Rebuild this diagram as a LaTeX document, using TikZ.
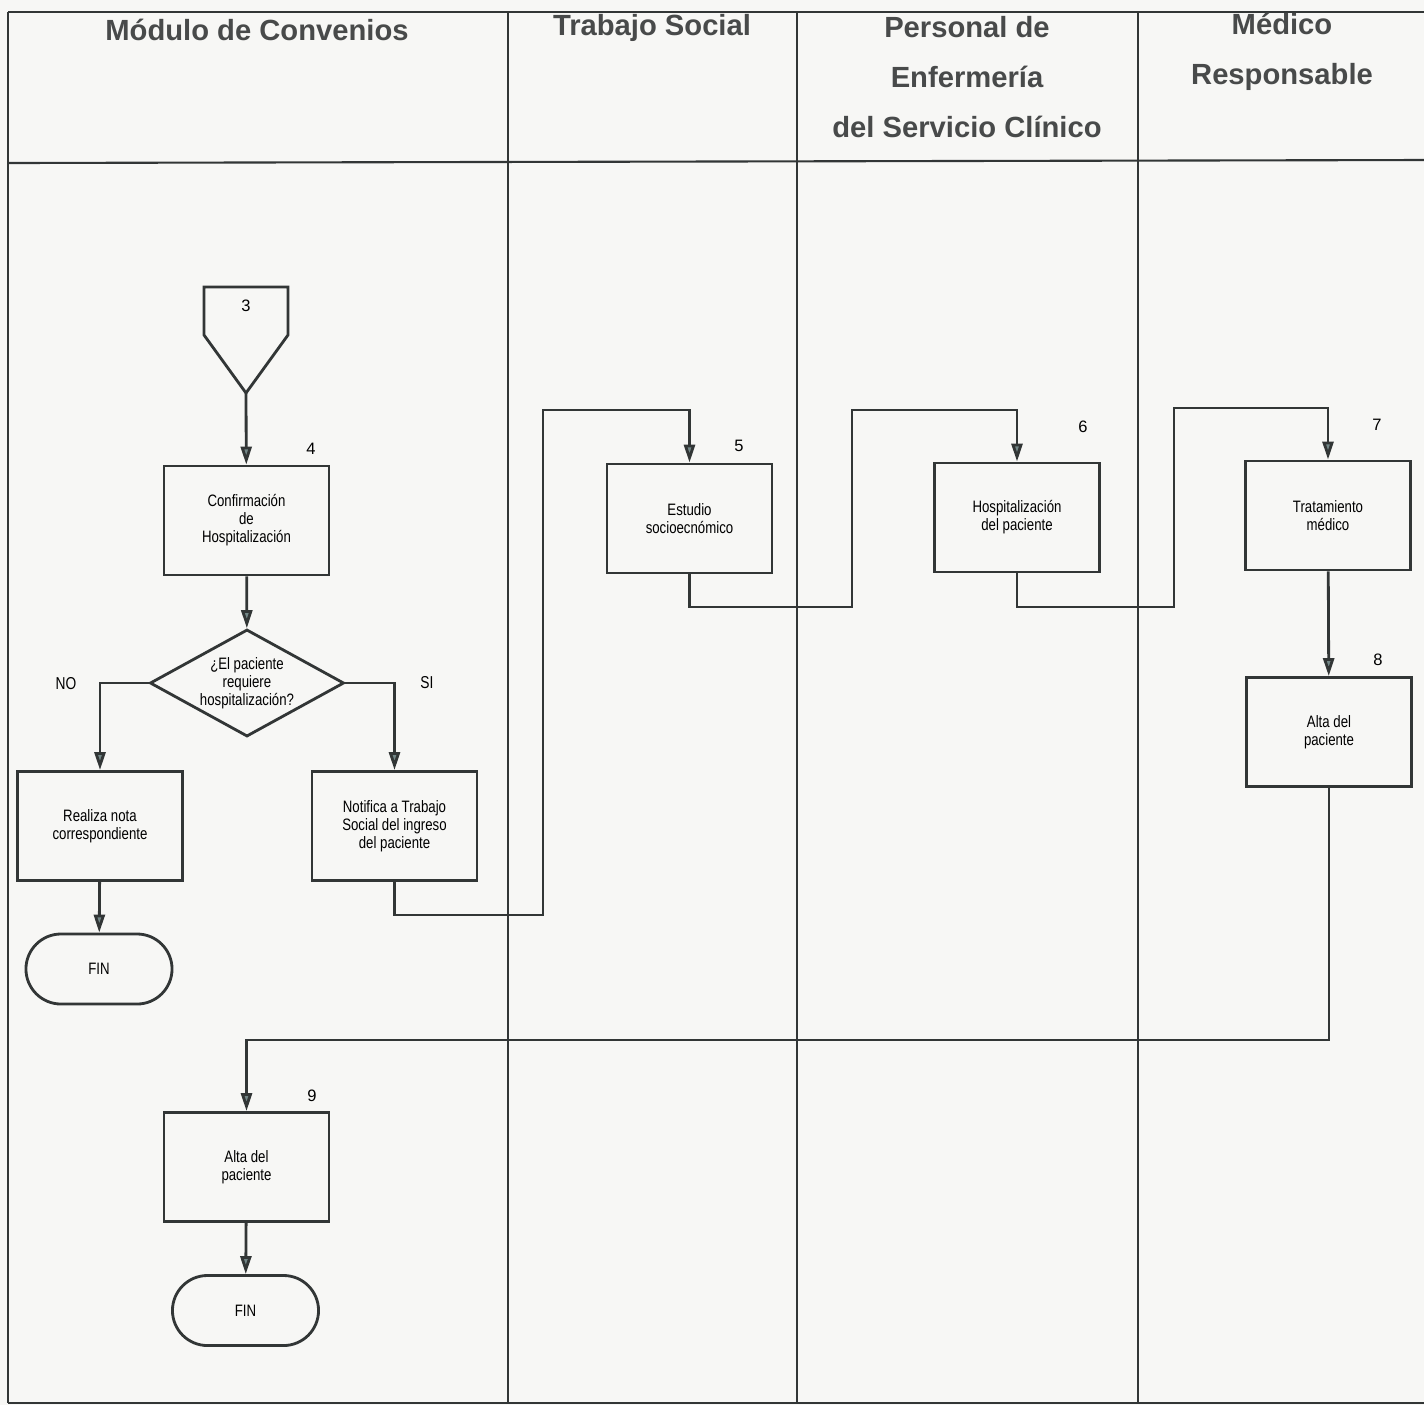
\documentclass[tikz,border=0pt]{standalone}
\usepackage{fontspec}
\setmainfont{Liberation Sans}
\newfontfamily\narrowfont[FakeStretch=0.8]{Liberation Sans}
\usetikzlibrary{arrows.meta,shapes.geometric}
\definecolor{linegray}{RGB}{50,54,54}
\definecolor{headgray}{RGB}{72,74,74}
\definecolor{tipgray}{RGB}{115,135,135}
\definecolor{paper}{RGB}{247,247,245}

\tikzset{
  frame/.style={draw=linegray, line width=0.6pt},
  proc/.style={draw=linegray, line width=0.8pt, minimum width=1.65cm, minimum height=1.09cm,
    align=center, inner sep=0pt, font=\narrowfont\fontsize{4.7}{5.1}\selectfont},
  decision/.style={draw=linegray, line width=0.8pt, diamond, aspect=1.81, inner sep=0pt,
    minimum width=1.94cm, minimum height=1.07cm, align=center,
    font=\narrowfont\fontsize{4.7}{5.1}\selectfont},
  terminal/.style={draw=linegray, line width=0.8pt, rectangle, rounded corners=0.35cm,
    minimum width=1.46cm, minimum height=0.7cm, font=\narrowfont\fontsize{4.7}{5.1}\selectfont},
  flow/.style={draw=linegray, line width=0.8pt},
  into/.style={flow, -{Triangle[length=0.18cm, width=0.11cm, fill=tipgray]}},
  lanehead/.style={font=\bfseries\fontsize{8.3}{14.2}\selectfont, text=headgray, align=center},
  stepno/.style={font=\fontsize{4.7}{5}\selectfont},
  branch/.style={font=\narrowfont\fontsize{4.9}{5}\selectfont},
}

\begin{document}
\begin{tikzpicture}[x=0.01cm, y=-0.01cm]
  \fill[paper] (0,0) rectangle (1424,1405);
  \useasboundingbox (0,0) rectangle (1424,1405);

  % swimlanes
  \draw[frame] (8,12) -- (1424,12);
  \draw[frame] (8,163) -- (1424,160);
  \draw[frame] (8,1403) -- (1424,1403);
  \draw[frame] (8,12) -- (8,1403);
  \foreach \x in {508,797,1138}
    \draw[frame] (\x,12) -- (\x,1403);

  \node[lanehead] (hmod) at (257,30) {Módulo de Convenios};
  \node[lanehead] (hts) at (652,28) {Trabajo Social};
  \node[lanehead] (henf) at (967,77) {Personal de\\Enfermería\\del Servicio Clínico};
  \node[lanehead] (hmed) at (1282,52) {Médico\\Responsable};

  % conector de entrada
  \draw[flow] (204,287) -- (288,287) -- (288,335) -- (246,393) -- (204,335) -- cycle;
  \coordinate (in3) at (246,393);
  \node[stepno] (n3) at (246,306) {3};

  % nodos
  \node[proc] (conf) at (246.5,520.5) {Confirmación\\de\\Hospitalización};
  \node[decision] (dec) at (247,683) {¿El paciente\\requiere\\hospitalización?};
  \node[proc] (nota) at (100,826) {Realiza nota\\correspondiente};
  \node[proc] (notif) at (394.5,826) {Notifica a Trabajo\\Social del ingreso\\del paciente};
  \node[terminal] (fin1) at (99,969) {FIN};
  \node[proc] (estudio) at (689.5,518.5) {Estudio\\socioecnómico};
  \node[proc] (hosp) at (1017,517.5) {Hospitalización\\del paciente};
  \node[proc] (trat) at (1328,515.5) {Tratamiento\\médico};
  \node[proc] (alta8) at (1329,732) {Alta del\\paciente};
  \node[proc] (alta9) at (246.5,1167) {Alta del\\paciente};
  \node[terminal] (fin2) at (245.5,1310.5) {FIN};

  \node[stepno] (n4) at (311,449) {4};
  \node[stepno] (n5) at (739,446) {5};
  \node[stepno] (n6) at (1083,427) {6};
  \node[stepno] (n7) at (1377,425) {7};
  \node[stepno] (n8) at (1378,660) {8};
  \node[stepno] (n9) at (312,1096) {9};
  \node[branch] (no) at (66,684) {NO};
  \node[branch] (si) at (427,683) {SI};

  % conectores
  \draw[into] (in3) -- (conf);
  \draw[into] (conf) -- (dec);
  \draw[into] (dec.west) -| (nota.north);
  \draw[into] (dec.east) -| (notif.north);
  \draw[into] (nota) -- (fin1);
  \draw[into] (notif.south) |- (543,915) -- (543,410) -| (estudio.north);
  \draw[into] (estudio.south) |- (852,607) -- (852,410) -| (hosp.north);
  \draw[into] (hosp.south) |- (1174,607) -- (1174,408) -| (trat.north);
  \draw[into] (trat) -- (alta8);
  \draw[into] (alta8.south) -- ++(0,252) -| (alta9.north);
  \draw[into] (alta9) -- (fin2);
\end{tikzpicture}
\end{document}
